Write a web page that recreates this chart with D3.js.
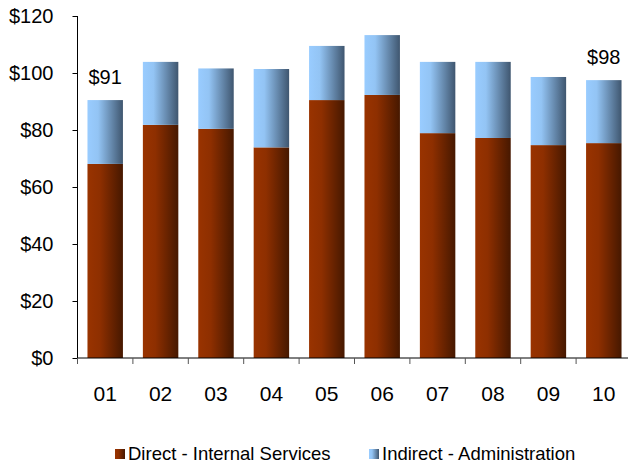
<!DOCTYPE html>
<html><head><meta charset="utf-8">
<script src="https://cdn.jsdelivr.net/npm/d3@7/dist/d3.min.js"></script>
<style>body{margin:0;background:#fff}svg{display:block}text{font-family:Arial,"Liberation Sans",sans-serif;fill:#000}</style>
</head><body><svg id="c" width="628" height="463"></svg>
<script>
const categories = ["01","02","03","04","05","06","07","08","09","10"];
const direct = [68.1, 81.8, 80.4, 73.9, 90.5, 92.3, 78.9, 77.2, 74.7, 75.4];
const indirect = [22.4, 22.1, 21.2, 27.5, 19.0, 21.0, 25.0, 26.7, 23.9, 22.1];
const yTicks = [0, 20, 40, 60, 80, 100, 120];
const seriesNames = ["Direct - Internal Services", "Indirect - Administration"];
const totalLabels = [{i:0, text:"$91"}, {i:9, text:"$98"}];

const svg = d3.select("#c");
const defs = svg.append("defs");
function grad(id, stops){
  const g = defs.append("linearGradient").attr("id", id).attr("x1","0").attr("x2","1").attr("y1","0").attr("y2","0");
  stops.forEach(s => g.append("stop").attr("offset", s[0]).attr("stop-color", s[1]));
}
grad("gDirect", [[0,"#993300"],[0.35,"#8e2f00"],[1,"#461800"]]);
grad("gIndirect", [[0,"#99ccff"],[0.3,"#93c4f4"],[1,"#3f566f"]]);

const x = d3.scaleBand().domain(categories).range([77.5, 631.5]).paddingInner(0.36).paddingOuter(0.18);
const y = d3.scaleLinear().domain([0,120]).range([358, 16]);

const stacked = categories.map((c,i)=>({c, d:direct[i], t:direct[i]+indirect[i]}));

const g = svg.append("g");
g.selectAll("rect.d").data(stacked).enter().append("rect")
  .attr("x", d=>x(d.c)).attr("width", x.bandwidth())
  .attr("y", d=>y(d.d)).attr("height", d=>y(0)-y(d.d))
  .attr("fill","url(#gDirect)");
g.selectAll("rect.i").data(stacked).enter().append("rect")
  .attr("x", d=>x(d.c)).attr("width", x.bandwidth())
  .attr("y", d=>y(d.t)).attr("height", d=>y(d.d)-y(d.t))
  .attr("fill","url(#gIndirect)");

// y axis
const ya = svg.append("g").attr("transform","translate(77.5,0)")
  .call(d3.axisLeft(y).tickValues(yTicks).tickFormat(d=>"$"+d).tickSize(5).tickPadding(19));
ya.select(".domain").attr("stroke","#000").attr("d","M0,16V358");
ya.selectAll("text").style("font-size","20px");

// x axis
const xTickPos = d3.range(categories.length).map(i => 77.5 + i*x.step());
const xa = svg.append("g").attr("transform","translate(0,358)");
xa.append("line").attr("x1",77.5).attr("x2",628).attr("y1",0).attr("y2",0).attr("stroke","#000");
xa.selectAll("line.t").data(xTickPos).enter().append("line")
  .attr("x1",d=>d).attr("x2",d=>d).attr("y1",0).attr("y2",6).attr("stroke","#555");
xa.selectAll("text").data(categories).enter().append("text")
  .attr("x", d=>x(d)+x.bandwidth()/2).attr("y", 42.5).attr("text-anchor","middle")
  .style("font-size","21px").text(d=>d);

// total labels
svg.selectAll("text.tot").data(totalLabels).enter().append("text")
  .attr("x", d=>x(categories[d.i])+x.bandwidth()/2)
  .attr("y", d=>y(direct[d.i]+indirect[d.i]) - 16.5)
  .attr("text-anchor","middle").style("font-size","20px").text(d=>d.text);

// legend
const leg = [{n:seriesNames[0], f:"url(#gDirect)", x:115},{n:seriesNames[1], f:"url(#gIndirect)", x:369}];
const lg = svg.selectAll("g.leg").data(leg).enter().append("g");
lg.append("rect").attr("x",d=>d.x).attr("y",449).attr("width",10).attr("height",10).attr("fill",d=>d.f);
lg.append("text").attr("x",d=>d.x+13).attr("y",459.5).style("font-size","18.5px").text(d=>d.n);
</script></body></html>
